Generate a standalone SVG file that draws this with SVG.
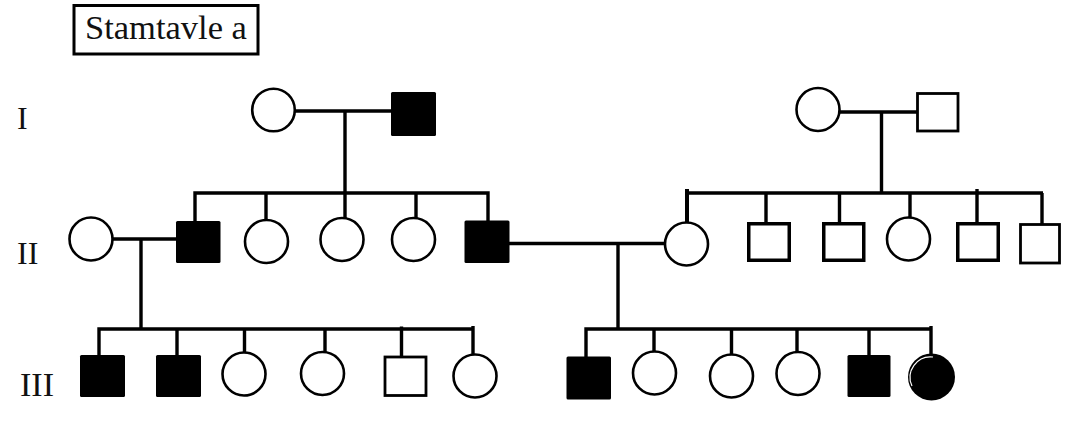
<svg xmlns="http://www.w3.org/2000/svg" width="1079" height="423" viewBox="0 0 1079 423">
<style>
.lbl{font-family:"Liberation Serif","Times New Roman",serif;fill:#111}
.f{fill:#fff;stroke:#000;stroke-width:2.6}
.m{fill:#fff;stroke:#000;stroke-width:3.5}
.mt{fill:#fff;stroke:#000;stroke-width:2.8}
.ma{fill:#000}
#connectors path{fill:none;stroke:#000;stroke-width:3.4;stroke-linecap:butt}
</style>
<rect width="1079" height="423" fill="#fff"/>
<g id="title">
<rect x="74" y="5.5" width="184" height="48.5" fill="#fff" stroke="#000" stroke-width="3"/>
<text class="lbl" x="85" y="38.5" font-size="34.5">Stamtavle a</text>
</g>
<g id="gen-labels">
<text class="lbl" x="17" y="129" font-size="32">I</text>
<text class="lbl" x="17" y="264" font-size="32">II</text>
<text class="lbl" x="20" y="396" font-size="34">III</text>
</g>
<g id="connectors">
<path d="M295 111 H392 M345 111 V193 M193.3 193 H489.7 M195 193 V222 M266 193 V225 M345 193 V218 M416 193 V218 M488 193 V222"/>
<path d="M840 112 H917 M881.5 112 V193 M686 193 H1043 M1042 193 V224 M766 193 V223 M839.5 193 V223 M910 193 V229 M977 189 V223"/>
<path d="M687 189 V222" style="stroke-width:4"/>
<path d="M112 239 H177 M141 239 V329 M97.3 329 H474.7 M99 329 V356 M177 329 V356 M244.5 329 V354 M325 329 V352 M401.5 326.5 V357 M473 326 V354"/>
<path d="M509 243.5 H671 M618 243.5 V329 M584.3 329 H932.7 M586 329 V357 M654 329 V352 M731.5 329 V357 M797 329 V352 M869 329 V356 M931 326 V355"/>
</g>
<g id="I-1"><circle class="f" cx="273.5" cy="110" r="21.3"/></g>
<g id="I-2"><rect class="ma" x="391" y="92" width="45" height="44" rx="1.5"/></g>
<g id="I-3"><circle class="f" cx="818" cy="109.5" r="21.5"/></g>
<g id="I-4"><rect class="mt" x="917.5" y="93.5" width="40.5" height="37.5"/></g>
<g id="II-0"><circle class="f" cx="91" cy="239" r="21.5"/></g>
<g id="II-1"><rect class="ma" x="176" y="221" width="44.5" height="42" rx="1.5"/></g>
<g id="II-2"><circle class="f" cx="266.5" cy="241.5" r="21.5"/></g>
<g id="II-3"><circle class="f" cx="342" cy="239.5" r="21.5"/></g>
<g id="II-4"><circle class="f" cx="413.5" cy="239.5" r="21.5"/></g>
<g id="II-5"><rect class="ma" x="464.5" y="220.5" width="45" height="42.5" rx="1.5"/></g>
<g id="II-6"><circle class="f" cx="686.5" cy="244" r="21.5"/></g>
<g id="II-7"><rect class="m" x="748.75" y="223.75" width="40.5" height="36.5"/></g>
<g id="II-8"><rect class="m" x="823.75" y="223.75" width="40" height="36.5"/></g>
<g id="II-9"><circle class="f" cx="908.5" cy="239" r="21.5"/></g>
<g id="II-10"><rect class="m" x="957.75" y="223.75" width="40.5" height="36.5"/></g>
<g id="II-11"><rect class="mt" x="1020.5" y="224.5" width="39" height="38.5"/></g>
<g id="III-1"><rect class="ma" x="80" y="355" width="45" height="42" rx="1.5"/></g>
<g id="III-2"><rect class="ma" x="156" y="355" width="45" height="42" rx="1.5"/></g>
<g id="III-3"><circle class="f" cx="244" cy="374" r="21.5"/></g>
<g id="III-4"><circle class="f" cx="322.5" cy="373.5" r="21.5"/></g>
<g id="III-5"><rect class="mt" x="385" y="357" width="41" height="38.5"/></g>
<g id="III-6"><circle class="f" cx="475" cy="376" r="21.5"/></g>
<g id="III-7"><rect class="ma" x="566.5" y="356.5" width="44.5" height="43" rx="1.5"/></g>
<g id="III-8"><circle class="f" cx="654.5" cy="373" r="21.5"/></g>
<g id="III-9"><circle class="f" cx="731.5" cy="376" r="21.5"/></g>
<g id="III-10"><circle class="f" cx="798" cy="373.5" r="21.5"/></g>
<g id="III-11"><rect class="ma" x="847.5" y="355" width="43" height="42" rx="1.5"/></g>
<g id="III-12"><circle cx="931.5" cy="377" r="23.5" fill="#000"/><path d="M912 386 A20.5 20.5 0 0 1 933 357" fill="none" stroke="#fff" stroke-width="1.2"/></g>
</svg>
